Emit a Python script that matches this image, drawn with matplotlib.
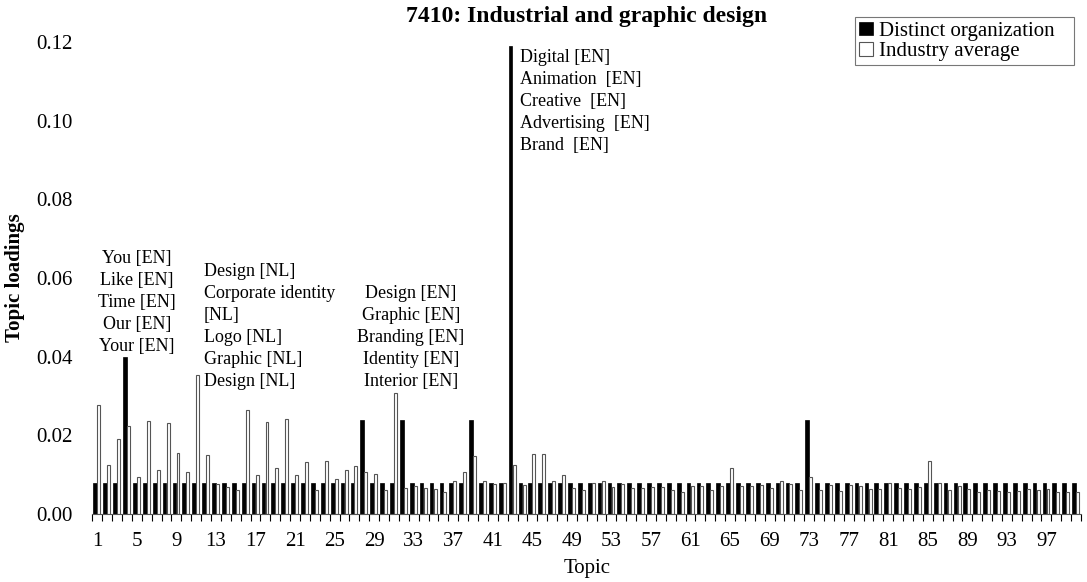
import numpy as np
import matplotlib.pyplot as plt

plt.rcParams['font.family'] = ['Liberation Serif', 'DejaVu Serif']

topics = np.arange(1, 101)

distinct = [0.008] * 100
distinct[4 - 1] = 0.040
distinct[28 - 1] = 0.024
distinct[32 - 1] = 0.024
distinct[39 - 1] = 0.024
distinct[43 - 1] = 0.119
distinct[73 - 1] = 0.024

industry = [
    0.0277, 0.0125, 0.0191, 0.0223, 0.0095, 0.0236, 0.0112, 0.0232, 0.0155, 0.0106,
    0.0353, 0.0151, 0.0076, 0.0068, 0.0061, 0.0265, 0.0098, 0.0234, 0.0117, 0.0242,
    0.0098, 0.0131, 0.0060, 0.0136, 0.0090, 0.0111, 0.0121, 0.0106, 0.0101, 0.0060,
    0.0307, 0.0065, 0.0072, 0.0066, 0.0064, 0.0057, 0.0085, 0.0108, 0.0148, 0.0085,
    0.0076, 0.0080, 0.0124, 0.0075, 0.0153, 0.0153, 0.0084, 0.0098, 0.0067, 0.0061,
    0.0080, 0.0085, 0.0068, 0.0076, 0.0066, 0.0066, 0.0068, 0.0068, 0.0061, 0.0057,
    0.0072, 0.0072, 0.0061, 0.0070, 0.0118, 0.0070, 0.0072, 0.0075, 0.0066, 0.0085,
    0.0077, 0.0061, 0.0095, 0.0060, 0.0074, 0.0059, 0.0074, 0.0070, 0.0064, 0.0064,
    0.0078, 0.0067, 0.0064, 0.0068, 0.0134, 0.0080, 0.0061, 0.0070, 0.0064, 0.0057,
    0.0060, 0.0059, 0.0055, 0.0059, 0.0064, 0.0060, 0.0064, 0.0057, 0.0057, 0.0057,
]

xtick_labels = [str(t) for t in range(1, 101, 4)]

notes = [
    (5.0, 0.0405, "You [EN]\nLike [EN]\nTime [EN]\nOur [EN]\nYour [EN]", 'center'),
    (11.8, 0.0315, "Design [NL]\nCorporate identity\n[NL]\nLogo [NL]\nGraphic [NL]\nDesign [NL]", 'left'),
    (32.7, 0.0315, "Design [EN]\nGraphic [EN]\nBranding [EN]\nIdentity [EN]\nInterior [EN]", 'center'),
    (43.8, 0.0915, "Digital [EN]\nAnimation  [EN]\nCreative  [EN]\nAdvertising  [EN]\nBrand  [EN]", 'left'),
]

fig = plt.figure(figsize=(10.87, 5.82), dpi=100)
ax = fig.add_axes([0.085, 0.1168, 0.9095, 0.8112])

ax.bar(topics - 0.2, distinct, width=0.38, color='black', edgecolor='black',
       linewidth=0.5, label='Distinct organization')
ax.bar(topics + 0.16, industry, width=0.3, color='white', edgecolor='#555555',
       linewidth=0.8, label='Industry average')

ax.set_xlim(0.5, 100.5)
ax.set_ylim(0, 0.12)
ax.set_yticks(np.arange(0, 0.121, 0.02))
ax.set_yticklabels(['%.2f' % v for v in np.arange(0, 0.121, 0.02)], fontsize=15)
ax.tick_params(axis='y', length=0, pad=14)

ax.set_xticks(np.arange(0.5, 101, 1), minor=True)
ax.set_xticks(range(1, 101, 4))
ax.set_xticklabels(xtick_labels, fontsize=15)
ax.tick_params(axis='x', which='major', length=0, pad=13)
ax.tick_params(axis='x', which='minor', length=5, direction='out', width=0.8)

for s in ['top', 'right', 'left']:
    ax.spines[s].set_visible(False)
ax.spines['bottom'].set_color('#555555')

for x, y, txt, ha in notes:
    ax.text(x, y, txt, ha=ha, va='bottom', fontsize=13, linespacing=1.38)

ax.set_title('7410: Industrial and graphic design', fontsize=17, fontweight='bold', pad=14)
ax.set_xlabel('Topic', fontsize=15, labelpad=6)
ax.set_ylabel('Topic loadings', fontsize=15, fontweight='bold')
ax.yaxis.set_label_coords(-0.068, 0.5)

leg = ax.legend(loc='upper right', bbox_to_anchor=(0.993, 1.052), fontsize=15,
                frameon=True, fancybox=False, edgecolor='#555555',
                handlelength=0.7, handleheight=0.65, handletextpad=0.25,
                borderpad=0.2, labelspacing=0.05, borderaxespad=0)
leg.get_frame().set_linewidth(0.8)
# reference box has a wider right margin
for t in leg.get_texts():
    t.set_text(t.get_text() + '   ')

fig.savefig('out.png', dpi=100)
